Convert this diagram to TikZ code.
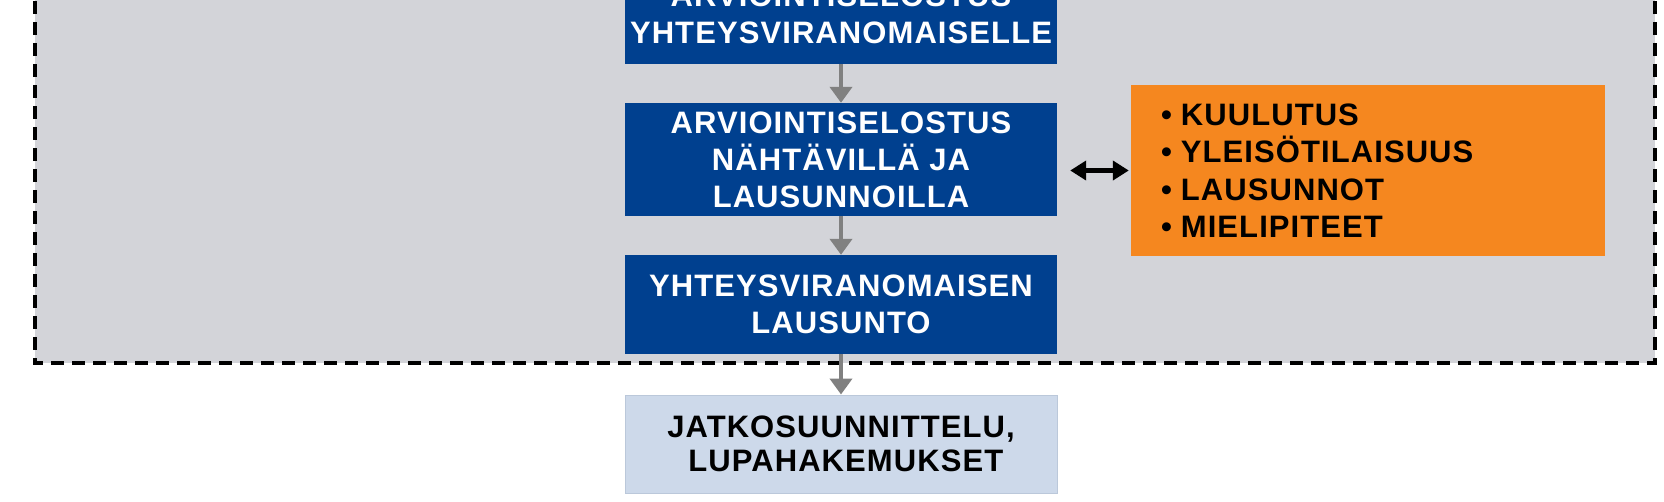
\documentclass[tikz,border=0pt]{standalone}
\usepackage{fontspec}
\setmainfont{Liberation Sans}
\newfontfamily\boxfont[LetterSpace=3.5]{Liberation Sans Bold}
\usetikzlibrary{arrows.meta}
\definecolor{bgray}{HTML}{D3D4D9}
\definecolor{dblue}{HTML}{00408F}
\definecolor{lblue}{HTML}{CDD9EA}
\definecolor{lbord}{HTML}{BBC8DA}
\definecolor{orng}{HTML}{F5871F}
\definecolor{agray}{HTML}{808080}
\tikzset{
  bluebox/.style={fill=dblue, text=white, minimum width=432pt, inner sep=0pt, align=center,
    font=\boxfont\fontsize{31}{37}\selectfont},
  finalbox/.style={fill=lblue, draw=lbord, line width=1pt, text=black, minimum width=432pt, inner sep=0pt, align=center,
    font=\boxfont\fontsize{31}{34}\selectfont},
  notebox/.style={fill=orng, text=black, minimum width=474pt, minimum height=171pt, inner xsep=30pt, inner ysep=0pt,
    text width=414pt, align=left, font=\boxfont\fontsize{31}{37.5}\selectfont},
  flow/.style={draw=agray, line width=4.5pt, -{Triangle[width=22pt,length=16pt]}},
  both/.style={draw=black, line width=4.5pt, {Triangle[width=19pt,length=16pt]}-{Triangle[width=19pt,length=16pt]}, shorten <=13pt, shorten >=2pt},
  region/.style={fill=bgray, draw=black, line width=3.5pt, dash pattern=on 13pt off 8pt}
}
\begin{document}
\begin{tikzpicture}[x=1pt,y=-1pt]
\useasboundingbox (0,0) rectangle (1664,501);
\clip (0,0) rectangle (1664,501);
\fill[white] (0,0) rectangle (1664,501);
\draw[region] (35,-20) rectangle (1655,363);
\node[bluebox, minimum height=99pt] (b1) at (841,14.5) {ARVIOINTISELOSTUS\\YHTEYSVIRANOMAISELLE};
\node[bluebox, minimum height=113pt] (b2) at (841,159.5) {ARVIOINTISELOSTUS\\NÄHTÄVILLÄ JA\\LAUSUNNOILLA};
\node[bluebox, minimum height=99pt] (b3) at (841,304.5) {YHTEYSVIRANOMAISEN\\LAUSUNTO};
\node[finalbox, minimum height=98pt] (b4) at (841,444) {JATKOSUUNNITTELU,\\\ LUPAHAKEMUKSET};
\node[notebox] (n) at (1368,170.5) {\textbullet\hspace{9pt}KUULUTUS\\\textbullet\hspace{9pt}YLEISÖTILAISUUS\\\textbullet\hspace{9pt}LAUSUNNOT\\\textbullet\hspace{9pt}MIELIPITEET};
\draw[flow] (b1) -- (b2);
\draw[flow] (b2) -- (b3);
\draw[flow] (b3) -- (b4);
\draw[both] (b2.east |- n.west) -- (n.west);
\end{tikzpicture}
\end{document}
